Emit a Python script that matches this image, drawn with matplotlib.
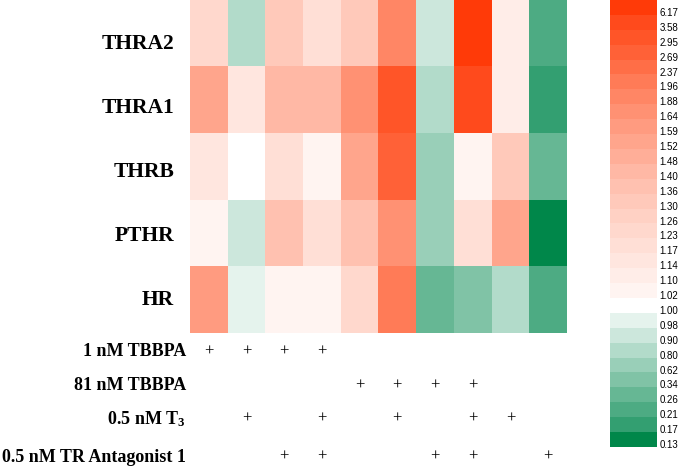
import numpy as np
import matplotlib
matplotlib.use("Agg")
import matplotlib.pyplot as plt
from matplotlib.colors import ListedColormap, BoundaryNorm

# --- data -------------------------------------------------------------
genes = ["THRA2", "THRA1", "THRB", "PTHR", "HR"]

# fold change per treatment group (columns 1..10)
fold_change = [
    [1.23, 0.80, 1.30, 1.17, 1.30, 1.88, 0.90, 6.17, 1.10, 0.21],  # THRA2
    [1.52, 1.14, 1.40, 1.40, 1.64, 2.95, 0.80, 3.58, 1.10, 0.17],  # THRA1
    [1.14, 1.00, 1.17, 1.02, 1.52, 2.69, 0.62, 1.02, 1.30, 0.26],  # THRB
    [1.02, 0.90, 1.36, 1.17, 1.36, 1.64, 0.62, 1.17, 1.52, 0.13],  # PTHR
    [1.59, 0.98, 1.02, 1.02, 1.23, 1.96, 0.26, 0.34, 0.80, 0.21],  # HR
]

# legend levels (ascending)
levels = [0.13, 0.17, 0.21, 0.26, 0.34, 0.62, 0.80, 0.90, 0.98, 1.00,
          1.02, 1.10, 1.14, 1.17, 1.23, 1.26, 1.30, 1.36, 1.40, 1.48,
          1.52, 1.59, 1.64, 1.88, 1.96, 2.37, 2.69, 2.95, 3.58, 6.17]

treatments = ["1 nM TBBPA", "81 nM TBBPA", "0.5 nM T$_{3}$", "0.5 nM TR Antagonist 1"]
treat_cols = [
    [1, 2, 3, 4],        # 1 nM TBBPA
    [5, 6, 7, 8],        # 81 nM TBBPA
    [2, 4, 6, 8, 9],     # T3
    [3, 4, 7, 8, 10],    # antagonist
]

# --- colours (one chip per level, ascending) -----------------------------
greens = ["#00874A", "#339F71", "#4DAB83", "#66B794", "#80C3A6",
          "#99CFB8", "#B2DBCA", "#CCE7DC", "#E5F3ED"]
reds = ["#FFF4F1", "#FFEDE8", "#FFE6DF", "#FFDFD6", "#FFD8CD",
        "#FFD1C4", "#FFC9BA", "#FFC1B0", "#FFB8A5", "#FFAE98",
        "#FFA58C", "#FF9B80", "#FF9173", "#FF8665", "#FF7B57",
        "#FF6E47", "#FF6137", "#FF5528", "#FF4A1C", "#FF3A08"]
colors = greens + ["#FFFFFF"] + reds
cmap = ListedColormap(colors)

lv = np.array(levels)
bounds = np.concatenate([[0.0], (lv[1:] + lv[:-1]) / 2, [10.0]])
norm = BoundaryNorm(bounds, ncolors=len(colors))

plt.rcParams.update({
    "font.family": "Liberation Serif",
    "font.weight": "bold",
    "mathtext.fontset": "custom",
    "mathtext.rm": "Liberation Serif:bold",
    "mathtext.it": "Liberation Serif:bold",
})

W, H = 678, 466
fig = plt.figure(figsize=(W / 100, H / 100), dpi=100)

# heatmap
ax = fig.add_axes([190 / W, 1 - 333 / H, 377 / W, 333 / H])
ax.imshow(np.array(fold_change), cmap=cmap, norm=norm, aspect="auto",
          interpolation="nearest")
ax.set_xticks([])
ax.set_yticks([])
for s in ax.spines.values():
    s.set_visible(False)

# gene labels
for i, g in enumerate(genes):
    fig.text(174 / W, 1 - (44 + 64 * i) / H, g, ha="right", va="center",
             fontsize=15.5, fontweight="bold")

# treatment table
row_y = [352, 386, 419, 457]
for name, cols, y in zip(treatments, treat_cols, row_y):
    fy = 1 - y / H
    fig.text(186 / W, fy, name, ha="right", va="center", fontsize=13,
             fontweight="bold")
    for c in cols:
        xd = ax.transData.transform((c - 1, 0))[0]
        fig.text(xd / W, fy, "+", ha="center", va="center", fontsize=12,
                 fontweight="normal")

# legend chips
cax = fig.add_axes([610 / W, 1 - 447 / H, 47 / W, 447 / H])
cax.imshow(np.arange(len(colors))[::-1].reshape(-1, 1), cmap=cmap,
           vmin=-0.5, vmax=len(colors) - 0.5, aspect="auto",
           interpolation="nearest")
cax.set_xticks([])
cax.yaxis.tick_right()
cax.set_yticks(np.arange(len(levels)) + 0.3)
cax.set_yticklabels([f"{v:.2f}" for v in levels[::-1]], fontsize=7,
                    family="Liberation Sans", fontweight="normal")
cax.tick_params(axis="y", length=0, pad=2)
cax.set_ylim(len(levels) - 0.5, -0.5)
for s in cax.spines.values():
    s.set_visible(False)

fig.savefig("out.png", dpi=100)
